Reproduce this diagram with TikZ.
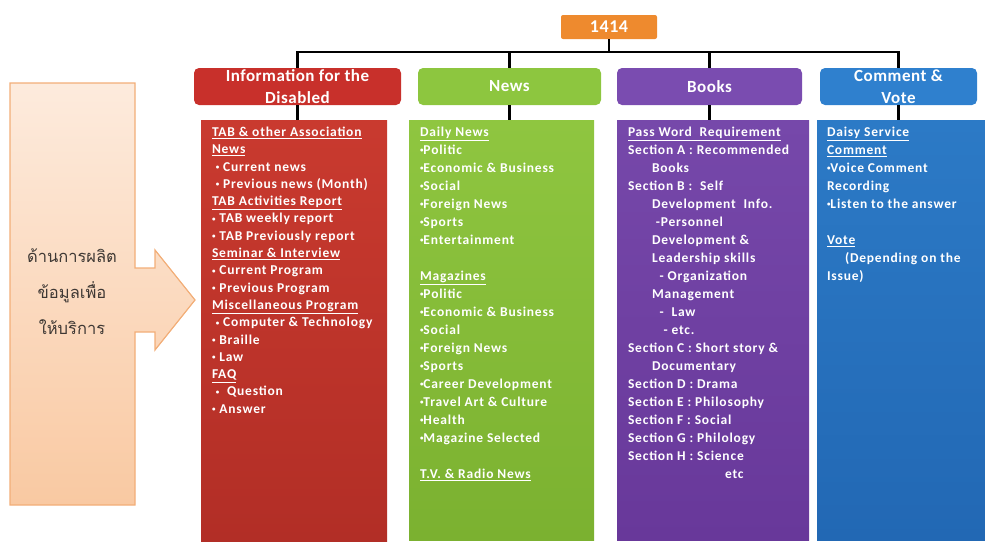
\documentclass[tikz,border=0pt]{standalone}
\usepackage{fontspec}
\setmainfont{Carlito}
\newfontfamily\listfont{Carlito}[LetterSpace=6]
\newfontfamily\headfont{Carlito}[LetterSpace=3]
\newfontfamily\thaifont[Script=Thai]{Loma}
\usetikzlibrary{positioning}

\definecolor{rootorange}{HTML}{EE8A2E}
\definecolor{hred}{HTML}{C8302B}
\definecolor{redtop}{HTML}{C93A2F}
\definecolor{redbot}{HTML}{B22E26}
\definecolor{hgreen}{HTML}{8DC63F}
\definecolor{greentop}{HTML}{8FC640}
\definecolor{greenbot}{HTML}{7BB130}
\definecolor{hpurple}{HTML}{7A4CB0}
\definecolor{purpletop}{HTML}{7648AA}
\definecolor{purplebot}{HTML}{68389A}
\definecolor{hblue}{HTML}{2F80CE}
\definecolor{bluetop}{HTML}{2C7AC6}
\definecolor{bluebot}{HTML}{2268B4}
\definecolor{peachtop}{HTML}{FDEBDD}
\definecolor{peachbot}{HTML}{F9C9A2}
\definecolor{peachline}{HTML}{F2AE78}
\definecolor{thaitext}{HTML}{3E3834}

\newcommand{\hd}[1]{\underline{#1}}
\newcommand{\ind}{\hspace*{24pt}}
\newcommand{\bul}{\raisebox{0.25ex}{\fontsize{7}{7}\selectfont •}}

\tikzset{
  head/.style={rounded corners=5pt, text=white, align=center, inner sep=0pt,
               font=\headfont\fontsize{17}{22}\selectfont\bfseries},
  panel/.style={inner sep=0pt},
  list/.style={text=white, align=left, inner sep=0pt,
               font=\listfont\fontsize{13.5}{18}\selectfont\bfseries},
  link/.style={draw=black, line width=2.4pt},
}

\begin{document}
\begin{tikzpicture}[x=1pt,y=-1pt]
\useasboundingbox (0,0) rectangle (985,552);

% side arrow
\path[draw=peachline, line width=1.2pt, top color=peachtop, bottom color=peachbot]
  (10,83) -- (135,83) -- (135,268) -- (155,268) -- (155,250) -- (195,300)
  -- (155,350) -- (155,332) -- (135,332) -- (135,505) -- (10,505) -- cycle;
\node[text=thaitext, align=center, font=\thaifont\fontsize{16.5}{36}\selectfont]
  (side) at (72,292) {ด้านการผลิต\\ข้อมูลเพื่อ\\ให้บริการ};

% panels
\begin{scope}[every node/.style={panel}]
  \node[top color=redtop, bottom color=redbot, minimum width=186, minimum height=421] (cInfo) at (294,330.5) {};
  \node[top color=greentop, bottom color=greenbot, minimum width=185, minimum height=420] (cNews) at (501.5,330) {};
  \node[top color=purpletop, bottom color=purplebot, minimum width=192, minimum height=420] (cBooks) at (713,330) {};
  \node[top color=bluetop, bottom color=bluebot, minimum width=168, minimum height=420] (cVote) at (901,330) {};
\end{scope}

% headers
\node[rounded corners=2pt, fill=rootorange, text=white, minimum width=96, minimum height=24,
      font=\headfont\fontsize{18}{18}\selectfont\bfseries] (root) at (609,27) {1414};
\node[head, fill=hred, minimum width=207, minimum height=37] (hInfo) at (297.5,86.5) {Information for the\\Disabled};
\node[head, fill=hgreen, minimum width=183, minimum height=37] (hNews) at (509.5,86.5) {News};
\node[head, fill=hpurple, minimum width=185, minimum height=37] (hBooks) at (709.5,86.5) {Books};
\node[head, fill=hblue, minimum width=157, minimum height=37] (hVote) at (898.5,86.5) {Comment \&\\Vote};

% connectors
\coordinate (bus) at (609,52);
\draw[link] (root.south) -- (bus);
\foreach \h in {hInfo,hNews,hBooks,hVote}
  \draw[link] (bus) -| (\h.north);
\foreach \h/\c in {hInfo/cInfo,hNews/cNews,hBooks/cBooks,hVote/cVote}
  \draw[link] (\h.south) -- (\h.south |- \c.north);

% panel texts
\node[list, font=\listfont\fontsize{13.5}{17.3}\selectfont\bfseries, anchor=north west,
      below right=7pt and 11pt of cInfo.north west] (lInfo) {%
  \hd{TAB \& other Association}\\
  \hd{News}\\
  \ \bul\ Current news\\
  \ \bul\ Previous\ news (Month)\\
  \hd{TAB Activities Report}\\
  \bul\ TAB weekly report\\
  \bul\ TAB Previously report\\
  \hd{Seminar \& Interview}\\
  \bul\ Current\ Program\\
  \bul\ Previous\ Program\\
  \hd{Miscellaneous Program}\\
  \ \bul\ Computer \& Technology\\
  \bul\ Braille\\
  \bul\ Law\\
  \hd{FAQ}\\
  \ \bul\ \ Question\\
  \bul\ Answer};
\node[list, anchor=north west, below right=7pt and 11pt of cNews.north west] (lNews) {%
  \hd{Daily News}\\
  \bul Politic\\
  \bul Economic \& Business\\
  \bul Social\\
  \bul Foreign News\\
  \bul Sports\\
  \bul Entertainment\\[18pt]
  \hd{Magazines}\\
  \bul Politic\\
  \bul Economic \& Business\\
  \bul Social\\
  \bul Foreign News\\
  \bul Sports\\
  \bul Career Development\\
  \bul Travel Art \& Culture\\
  \bul Health\\
  \bul Magazine Selected\\[18pt]
  \hd{T.V. \& Radio News}};
\node[list, anchor=north west, below right=7pt and 11pt of cBooks.north west] (lBooks) {%
  \hd{Pass Word\ \ Requirement}\\
  Section A : Recommended\\
  \ind Books\\
  Section B :\ \ Self\\
  \ind Development\ \ Info.\\
  \ind\ -Personnel\\
  \ind Development \&\\
  \ind Leadership skills\\
  \ind\ \ - Organization\\
  \ind Management\\
  \ind\ \ -\ \ Law\\
  \ind\ \ \ - etc.\\
  Section C : Short story \&\\
  \ind Documentary\\
  Section D : Drama\\
  Section E : Philosophy\\
  Section F : Social\\
  Section G : Philology\\
  Section H : Science\\
  \hspace*{97pt}etc};
\node[list, anchor=north west, below right=7pt and 10pt of cVote.north west] (lVote) {%
  \hd{Daisy Service}\\
  \hd{Comment}\\
  \bul Voice Comment\\
  Recording\\
  \bul Listen to the answer\\[18pt]
  \hd{Vote}\\
  \hspace*{18pt}(Depending on the\\
  Issue)};
\end{tikzpicture}
\end{document}
